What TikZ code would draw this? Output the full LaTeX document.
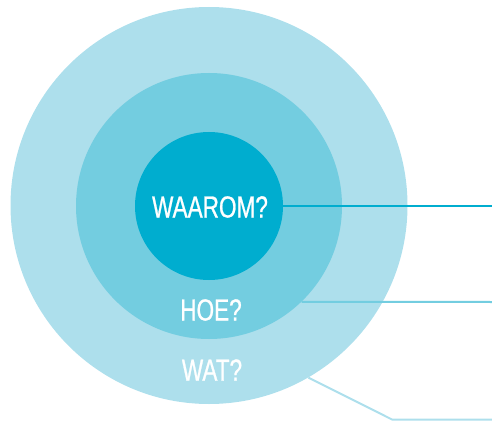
\documentclass[tikz,border=0pt]{standalone}
\usepackage{fontspec}
\newfontfamily\condfont[FakeStretch=0.74,FakeBold=0.8]{Liberation Sans}
\definecolor{cinner}{HTML}{00ADCF}
\definecolor{cmid}{HTML}{73CDE0}
\definecolor{couter}{HTML}{ADDFEC}
\tikzset{
  disc/.style={circle, draw=none, inner sep=0pt},
  lbl/.style={text=white, font=\condfont\fontsize{30.5}{30.5}\selectfont, inner sep=0pt, anchor=center},
  leader/.style={line width=2pt}
}
\begin{document}
\begin{tikzpicture}[x=1pt,y=-1pt]
\useasboundingbox (0,0) rectangle (492,422);
\node[disc, fill=couter, minimum size=397pt] (outer) at (209,205.5) {};
\node[disc, fill=cmid, minimum size=266pt] (mid) at (209,206) {};
\node[disc, fill=cinner, minimum size=148pt] (inner) at (209,206) {};
\node[lbl] (waarom) at (210,207) {WAAROM?};
\node[lbl] (hoe) at (211,310) {HOE?};
\node[lbl] (wat) at (212,370) {WAT?};
\coordinate (e1) at (492,206);
\coordinate (e2) at (492,302);
\coordinate (k3) at (392,419.5);
\coordinate (e3) at (492,419.5);
\draw[leader, cinner] (inner.east) -- (e1);
\draw[leader, cmid] (mid.-46) -- (e2);
\draw[leader, couter] (outer.-60) -- (k3) -- (e3);
\end{tikzpicture}
\end{document}
